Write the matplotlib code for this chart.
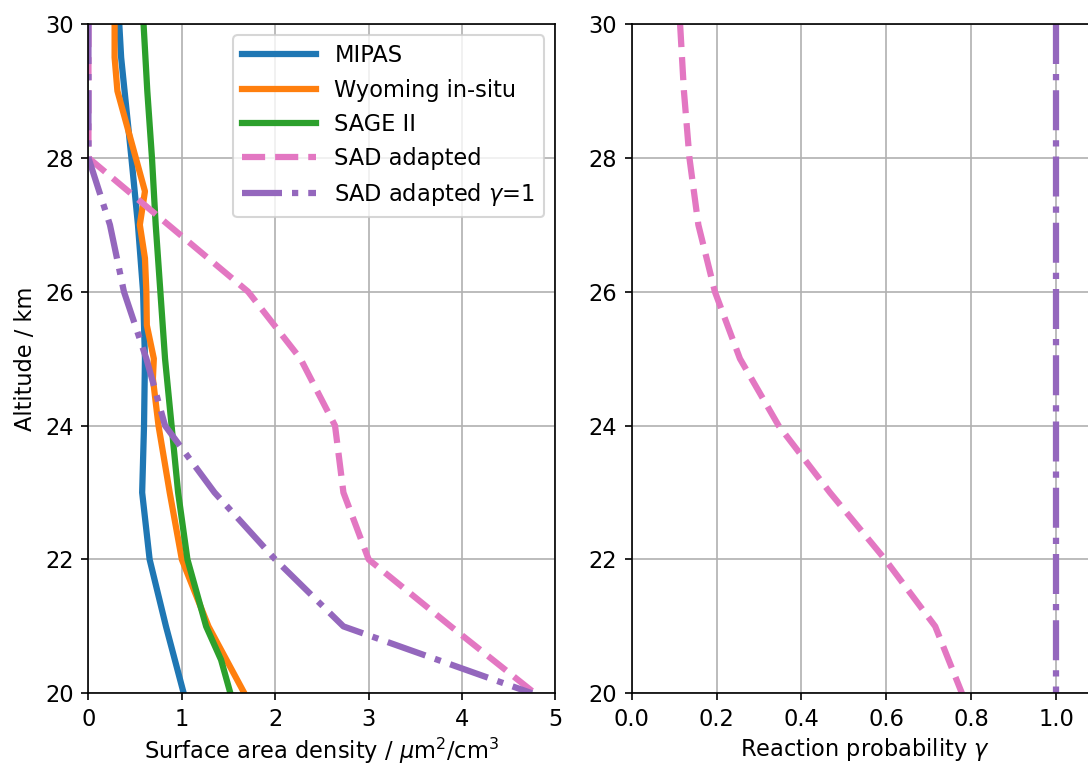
import matplotlib
matplotlib.use('Agg')
import matplotlib.pyplot as plt
import numpy as np

plt.rcParams['font.size'] = 10.8

# altitude grids (km)
alt_mipas = [30, 29.5, 28, 27, 26, 25, 24, 23, 22, 21, 20]
mipas = [0.33, 0.35, 0.46, 0.53, 0.585, 0.605, 0.595, 0.575, 0.655, 0.83, 1.02]

alt_wyo = [30, 29.5, 29, 27.5, 27, 26.5, 26, 25.5, 25, 24.7, 24, 23, 22, 21, 20]
wyoming = [0.28, 0.28, 0.31, 0.605, 0.55, 0.605, 0.62, 0.625, 0.70, 0.69, 0.75, 0.87, 1.0, 1.285, 1.67]

alt_sage = [30, 29, 28, 27, 26, 25, 24, 23, 22, 21, 20.5, 20]
sage = [0.59, 0.63, 0.68, 0.72, 0.77, 0.82, 0.89, 0.96, 1.06, 1.26, 1.42, 1.52]

alt_sad = [30, 29, 28, 27, 26, 25, 24, 23, 22, 21, 20]
sad = [0, 0, 0, 0.855, 1.71, 2.27, 2.64, 2.73, 3.0, 3.88, 4.78]
sad_g1 = [0, 0, 0, 0.23, 0.38, 0.62, 0.82, 1.35, 2.0, 2.73, 4.75]

gamma = [0.114, 0.123, 0.136, 0.157, 0.196, 0.255, 0.346, 0.467, 0.597, 0.715, 0.778]
gamma1 = [1, 1, 1, 1, 1, 1, 1, 1, 1, 1, 1]

fig = plt.figure(figsize=(1088/150, 765/150), dpi=150)
ax1 = fig.add_axes([0.0813, 0.0937, 0.4292, 0.8749])
ax2 = fig.add_axes([0.5806, 0.0937, 0.4292, 0.8749])

ax1.plot(mipas, alt_mipas, lw=3, color='C0', label='MIPAS')
ax1.plot(wyoming, alt_wyo, lw=3, color='C1', label='Wyoming in-situ')
ax1.plot(sage, alt_sage, lw=3, color='C2', label='SAGE II')
ax1.plot(sad, alt_sad, lw=3, ls='--', color='C6', label='SAD adapted')
ax1.plot(sad_g1, alt_sad, lw=3, ls='-.', color='C4', label='SAD adapted $\\gamma$=1')
ax1.set_xlim(0, 5)
ax1.set_ylim(20, 30)
ax1.set_xlabel('Surface area density / $\\mu$m$^2$/cm$^3$', labelpad=2.5)
ax1.set_ylabel('Altitude / km')
ax1.grid(True)
ax1.legend(loc='upper right', handlelength=3.3)

ax2.plot(gamma, alt_sad, lw=3, ls='--', color='C6')
ax2.plot(gamma1, alt_sad, lw=3, ls='-.', color='C4')
ax2.set_xlim(0, 1.1)
ax2.set_ylim(20, 30)
ax2.set_xticks([0.0, 0.2, 0.4, 0.6, 0.8, 1.0])
ax2.set_xlabel('Reaction probability $\\gamma$', labelpad=2.5)
ax2.grid(True)

fig.savefig('out.png', dpi=150)
